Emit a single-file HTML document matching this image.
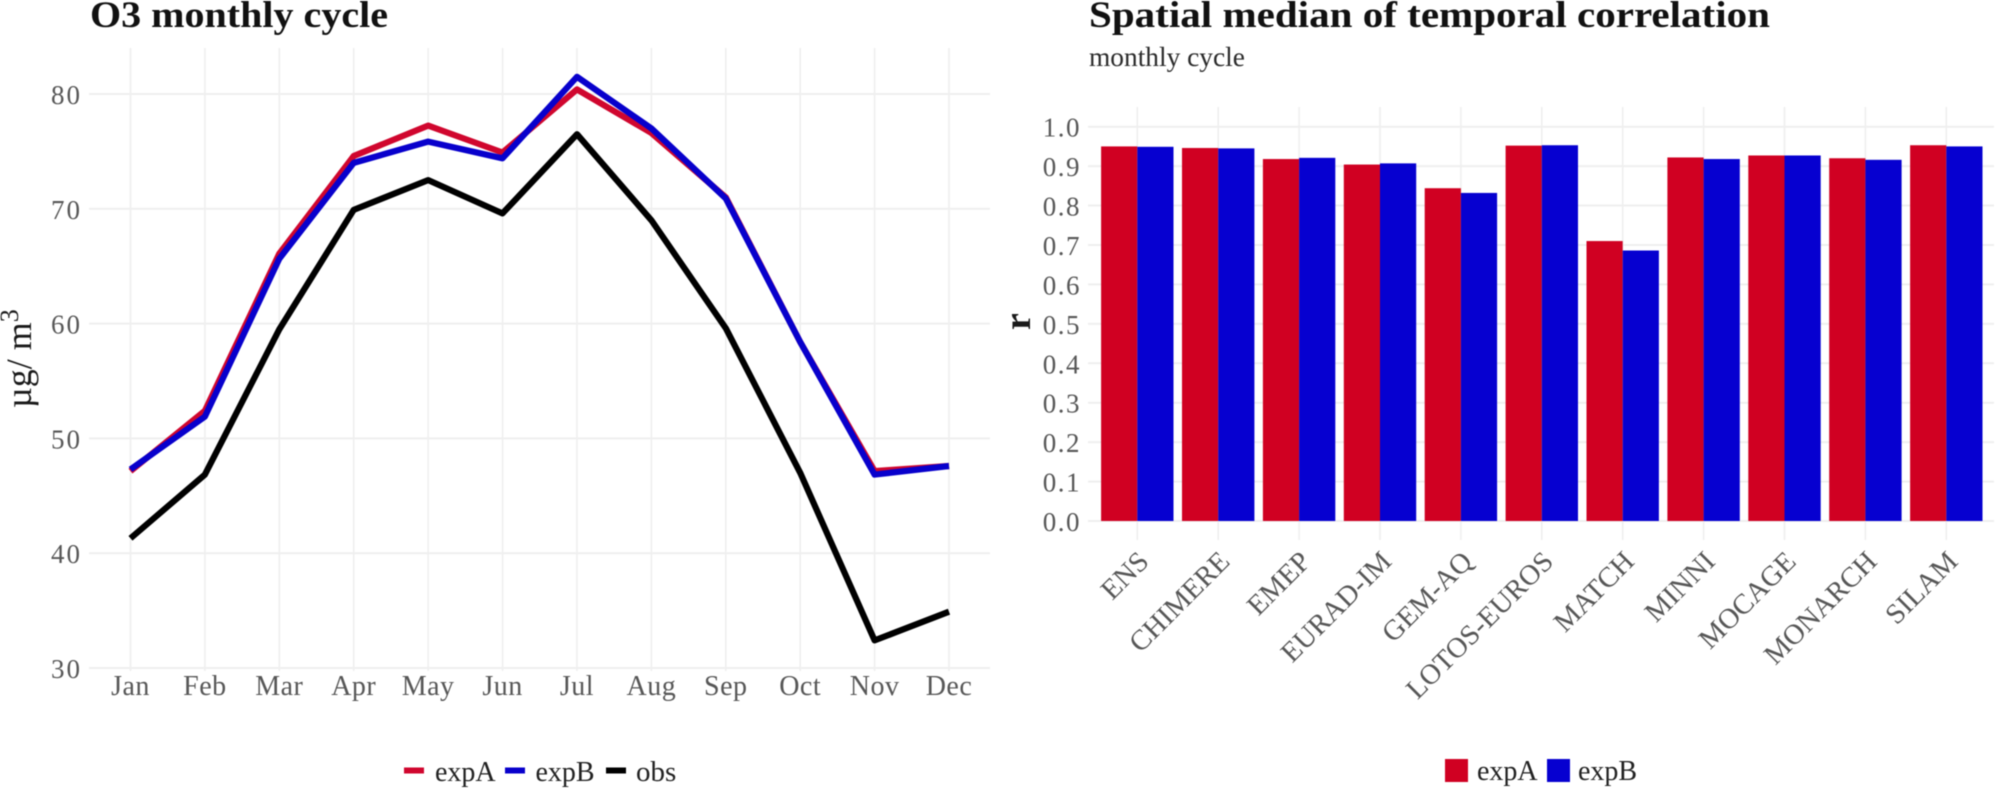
<!DOCTYPE html>
<html lang="en">
<head>
<meta charset="utf-8">
<title>O3 monthly cycle and spatial median of temporal correlation</title>
<style>
  html, body { margin: 0; padding: 0; background: #ffffff; }
  body { width: 1996px; height: 788px; overflow: hidden; }
  svg { display: block; filter: blur(0.6px); }
  text { font-family: "Liberation Serif", serif; }
</style>
</head>
<body>
<svg id="figure" xmlns="http://www.w3.org/2000/svg" width="1996" height="788" viewBox="0 0 1996 788">
  <rect x="0" y="0" width="1996" height="788" fill="#ffffff"></rect>
  <text x="90" y="27" font-size="37" font-weight="700" fill="#111111" textLength="298" lengthAdjust="spacingAndGlyphs">O3 monthly cycle</text>
  <text transform="translate(31 408) rotate(-90)" font-size="36" fill="#1a1a1a">µg/ m<tspan font-size="26" dy="-13">3</tspan></text>
  <text x="1089" y="27" font-size="37" font-weight="700" fill="#111111" textLength="681" lengthAdjust="spacingAndGlyphs">Spatial median of temporal correlation</text>
  <text x="1089" y="66" font-size="27.4" fill="#2b2b2b">monthly cycle</text>
  <text transform="translate(1030 330) rotate(-90)" font-size="38" font-weight="700" fill="#1a1a1a">r</text>

  <g id="lineGrid"></g>
  <g id="lineYTicks"></g>
  <g id="lineXTicks"></g>
  <g id="lineSeries"></g>

  <g id="barGrid"></g>
  <g id="barYTicks"></g>
  <g id="barXTicks"></g>
  <g id="barMarks"></g>

  <g>
    <g>
      <rect x="404" y="767.5" width="20" height="6" fill="#d0062e"></rect>
      <text x="435" y="781" font-size="28" fill="#222222">expA</text>
    </g>
    <g>
      <rect x="505" y="767.5" width="20" height="6" fill="#0800cc"></rect>
      <text x="535.5" y="781" font-size="28" fill="#222222">expB</text>
    </g>
    <g>
      <rect x="606" y="767.5" width="20" height="6" fill="#000000"></rect>
      <text x="636" y="781" font-size="29" fill="#222222">obs</text>
    </g>
  </g>
  <g>
    <g>
      <rect x="1445" y="759" width="23" height="23" fill="#d00022"></rect>
      <text x="1477" y="780" font-size="28" fill="#222222">expA</text>
    </g>
    <g>
      <rect x="1547" y="759" width="23" height="23" fill="#0600d0"></rect>
      <text x="1578" y="780" font-size="28" fill="#222222">expB</text>
    </g>
  </g>
</svg>
<script>
var months = ["Jan", "Feb", "Mar", "Apr", "May", "Jun", "Jul", "Aug", "Sep", "Oct", "Nov", "Dec"];
var lineExpA = [47.15, 52.4, 66.1, 74.6, 77.25, 74.9, 80.4, 76.6, 71.0, 58.4, 47.15, 47.6];
var lineExpB = [47.3, 51.9, 65.65, 74.0, 75.85, 74.4, 81.5, 77.0, 70.9, 58.4, 46.85, 47.6];
var lineObs = [41.3, 46.85, 59.5, 69.9, 72.5, 69.6, 76.5, 69.0, 59.6, 47.0, 32.4, 34.9];
var lineTicks = [30, 40, 50, 60, 70, 80];

var models = ["ENS", "CHIMERE", "EMEP", "EURAD-IM", "GEM-AQ", "LOTOS-EUROS", "MATCH", "MINNI", "MOCAGE", "MONARCH", "SILAM"];
var barExpA = [0.950, 0.946, 0.918, 0.904, 0.844, 0.952, 0.710, 0.922, 0.927, 0.920, 0.953];
var barExpB = [0.949, 0.945, 0.921, 0.907, 0.832, 0.953, 0.686, 0.918, 0.927, 0.916, 0.950];
var barTicks = ["0.0", "0.1", "0.2", "0.3", "0.4", "0.5", "0.6", "0.7", "0.8", "0.9", "1.0"];

var NS = "http://www.w3.org/2000/svg";
var GRID = "#efefef";
var TICK_TEXT = "#575757";

function svgEl(tag, parentId, attrs) {
  var el = document.createElementNS(NS, tag);
  for (var key in attrs) {
    el.setAttribute(key, attrs[key]);
  }
  document.getElementById(parentId).appendChild(el);
  return el;
}

/* axis functions */
function lineX(i) { return 130.5 + i * (949 - 130.5) / (months.length - 1); }
function lineY(v) { return 668 + (v - 30) * (94 - 668) / (80 - 30); }
function barCenter(i) { return 1137.3 + i * 80.9; }
function barY(v) { return 521 + v * (126.7 - 521); }

/* line chart: grid + ticks */
lineTicks.forEach(function (t) {
  var g = svgEl("line", "lineGrid", { x1: 89, x2: 990, y1: lineY(t), y2: lineY(t), stroke: GRID, "stroke-width": 2 });
  
  
  var lab = svgEl("text", "lineYTicks", { x: 82, y: lineY(t) + 10, "text-anchor": "end", "font-size": 27, "letter-spacing": 2, fill: TICK_TEXT });
  lab.textContent = String(t);
  
  
});
months.forEach(function (m, i) {
  var g = svgEl("line", "lineGrid", { x1: lineX(i), x2: lineX(i), y1: 48, y2: 671, stroke: GRID, "stroke-width": 1.6 });
  
  
  var lab = svgEl("text", "lineXTicks", { x: lineX(i), y: 695, "text-anchor": "middle", "font-size": 28, "letter-spacing": 0.5, fill: TICK_TEXT });
  lab.textContent = m;
  
  
});

/* line chart: series */
function linePoints(values) {
  return values.map(function (v, i) { return lineX(i).toFixed(1) + "," + lineY(v).toFixed(1); }).join(" ");
}
var seriesA = svgEl("polyline", "lineSeries", { points: linePoints(lineExpA), fill: "none", stroke: "#d0062e", "stroke-width": 6.2, "stroke-linejoin": "round" });


var seriesB = svgEl("polyline", "lineSeries", { points: linePoints(lineExpB), fill: "none", stroke: "#0800cc", "stroke-width": 6.2, "stroke-linejoin": "round" });


var seriesObs = svgEl("polyline", "lineSeries", { points: linePoints(lineObs), fill: "none", stroke: "#000000", "stroke-width": 6.2, "stroke-linejoin": "round" });



/* bar chart: grid + ticks */
barTicks.forEach(function (t) {
  var v = parseFloat(t);
  var g = svgEl("line", "barGrid", { x1: 1088, x2: 1994, y1: barY(v), y2: barY(v), stroke: GRID, "stroke-width": 2 });
  
  
  var lab = svgEl("text", "barYTicks", { x: 1081, y: barY(v) + 10, "text-anchor": "end", "font-size": 27, "letter-spacing": 1.5, fill: TICK_TEXT });
  lab.textContent = t;
  
  
});
models.forEach(function (m, i) {
  var cx = barCenter(i);
  var key = m.toLowerCase();
  var g = svgEl("line", "barGrid", { x1: cx, x2: cx, y1: 107, y2: 540, stroke: GRID, "stroke-width": 1.6 });
  
  
  var lab = svgEl("text", "barXTicks", { transform: "translate(" + (cx + 13) + " 563) rotate(-45)", "text-anchor": "end", "font-size": 28.5, fill: TICK_TEXT });
  lab.textContent = m;
  
  

  /* bars */
  var barW = 36.2;
  var redBar = svgEl("rect", "barMarks", { x: cx - barW, y: barY(barExpA[i]), width: barW, height: barY(0) - barY(barExpA[i]), fill: "#d00022" });
  
  
  var blueBar = svgEl("rect", "barMarks", { x: cx, y: barY(barExpB[i]), width: barW, height: barY(0) - barY(barExpB[i]), fill: "#0600d0" });
  
  
});
</script>
</body>
</html>
